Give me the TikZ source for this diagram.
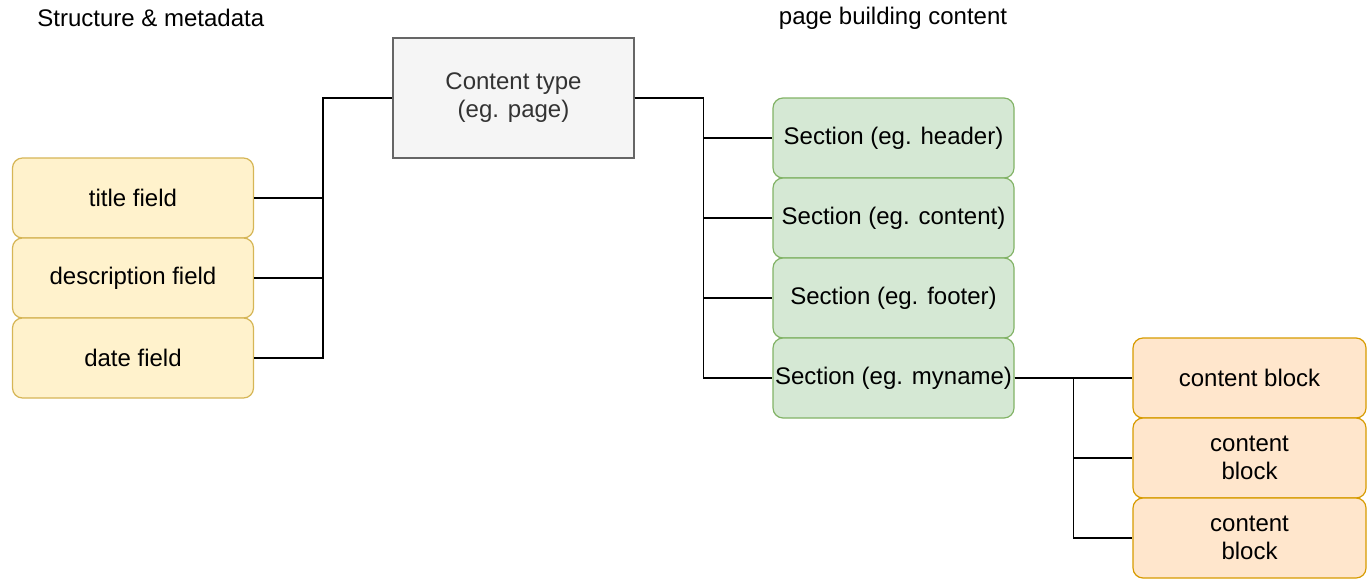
\documentclass[tikz,border=0pt]{standalone}
\usepackage{fontspec}
\setmainfont{Liberation Sans}
\definecolor{fieldfill}{HTML}{FFF2CC}
\definecolor{fielddraw}{HTML}{D6B656}
\definecolor{secfill}{HTML}{D5E8D4}
\definecolor{secdraw}{HTML}{82B366}
\definecolor{typefill}{HTML}{F5F5F5}
\definecolor{typedraw}{HTML}{666666}
\definecolor{blockfill}{HTML}{FFE6CC}
\definecolor{blockdraw}{HTML}{D79B00}
\begin{document}
\begin{tikzpicture}[
  x=0.5pt,
  y=-0.5pt,
  font=\fontsize{12}{14}\selectfont,
  box/.style={draw, line width=0.6pt, minimum width=120.5pt, minimum height=40pt, inner sep=0pt, align=center},
  fieldbox/.style={box, rounded corners=5pt, fill=fieldfill, draw=fielddraw},
  secbox/.style={box, rounded corners=5pt, fill=secfill, draw=secdraw},
  blockbox/.style={box, rounded corners=5pt, fill=blockfill, draw=blockdraw, minimum width=116.5pt},
  typebox/.style={box, fill=typefill, draw=typedraw, minimum height=60pt, text=black!80},
  link/.style={draw, line width=0.8pt}
]
\useasboundingbox (0,0) rectangle (1368,578);

%--------------------
% Titulos
%--------------------
\node[anchor=west, inner sep=0pt] (hleft) at (37,18) {Structure \& metadata};
\node[inner sep=0pt] (hright) at (893,18) {page building content};

%--------------------
% Tipo de contenido
%--------------------
\node[typebox] (ctype) at (513.5,98) {Content type\\(eg. page)};

%--------------------
% Campos
%--------------------
\node[fieldbox] (ftitle) at (133,198) {title field};
\node[fieldbox] (fdesc) at (133,278) {description field};
\node[fieldbox] (fdate) at (133,358) {date field};

%--------------------
% Secciones
%--------------------
\node[secbox] (sheader) at (893.5,138) {Section (eg. header)};
\node[secbox] (scontent) at (893.5,218) {Section (eg. content)};
\node[secbox] (sfooter) at (893.5,298) {Section (eg. footer)};
\node[secbox] (smyname) at (893.5,378) {Section (eg. myname)};

%--------------------
% Bloques
%--------------------
\node[blockbox] (bone) at (1249.5,378) {content block};
\node[blockbox] (btwo) at (1249.5,458) {content\\block};
\node[blockbox] (bthree) at (1249.5,538) {content\\block};

%--------------------
% Conexiones
%--------------------
\foreach \f in {ftitle,fdesc,fdate} {
  \draw[link] (\f.east) -- ++(69,0) |- (ctype.west);
}
\foreach \s in {sheader,scontent,sfooter,smyname} {
  \draw[link] (ctype.east) -- ++(69,0) |- (\s.west);
}
\foreach \b in {bone,btwo,bthree} {
  \draw[link] (smyname.east) -- ++(59,0) |- (\b.west);
}

\end{tikzpicture}
\end{document}
